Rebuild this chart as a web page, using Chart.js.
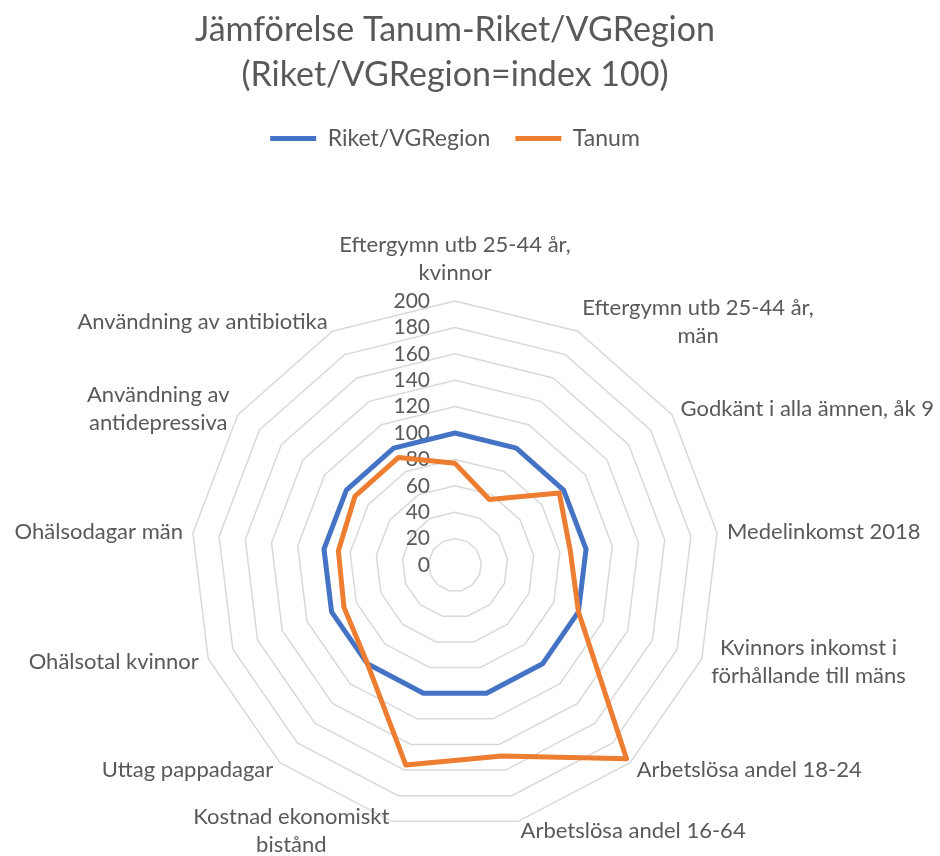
<!DOCTYPE html>
<html>
<head>
<meta charset="utf-8">
<script src="https://cdn.jsdelivr.net/npm/chart.js@4/dist/chart.umd.min.js"></script>
<style>
  html, body { margin: 0; padding: 0; background: #fff; }
  #wrap { width: 940px; height: 856px; }
</style>
</head>
<body>
<div id="wrap"><canvas id="chart"></canvas></div>
<script>
const categories = [
  ["Eftergymn utb 25-44 år,", "kvinnor"],
  ["Eftergymn utb 25-44 år,", "män"],
  "Godkänt i alla ämnen, åk 9",
  "Medelinkomst 2018",
  ["Kvinnors inkomst i", "förhållande till mäns"],
  "Arbetslösa andel 18-24",
  "Arbetslösa andel 16-64",
  ["Kostnad ekonomiskt", "bistånd"],
  "Uttag pappadagar",
  "Ohälsotal kvinnor",
  "Ohälsodagar män",
  ["Användning av", "antidepressiva"],
  "Användning av antibiotika"
];
const riket = [100, 100, 100, 100, 100, 100, 100, 100, 100, 100, 100, 100, 100];
const tanum = [77, 56, 96, 88, 100, 196, 149, 156, 100, 90, 89, 92, 92];
const tickValues = [0, 20, 40, 60, 80, 100, 120, 140, 160, 180, 200];

const textColor = "#595959";
const fontFamily = "Lato, 'Open Sans', sans-serif";

// extra room under the legend, like the empty band in the original
const legendMargin = {
  id: "legendMargin",
  beforeInit(chart) {
    const fit = chart.legend.fit;
    chart.legend.fit = function () {
      fit.bind(chart.legend)();
      this.height += 141;
    };
  },
};

// tick labels left of the axis and Excel-style category labels
const radarText = {
  id: "radarText",
  beforeDatasetsDraw(chart) {
    const r = chart.scales.r;
    const ctx = chart.ctx;
    ctx.save();
    ctx.fillStyle = textColor;
    ctx.font = "21px " + fontFamily;
    ctx.textAlign = "right";
    ctx.textBaseline = "middle";
    r.ticks.forEach((t) => {
      const d = r.getDistanceFromCenterForValue(t.value);
      ctx.fillText(String(t.value), r.xCenter - 25, r.yCenter - d);
    });

    const lh = 28;
    ctx.font = "22px " + fontFamily;
    ctx.textAlign = "center";
    categories.forEach((label, i) => {
      const lines = Array.isArray(label) ? label : [label];
      const p = r.getPointPosition(i, r.drawingArea + 10);
      const a = p.angle + Math.PI / 2;
      const s = Math.sin(a);
      const w = Math.max(...lines.map((l) => ctx.measureText(l).width));
      let cx = p.x;
      if (Math.abs(s) > 0.05) cx = s > 0 ? p.x + w / 2 : p.x - w / 2;
      let y0;
      if (i === 0) y0 = p.y - 18 - (lines.length - 1) * lh;
      else y0 = p.y - ((lines.length - 1) * lh) / 2;
      lines.forEach((l, k) => ctx.fillText(l, cx, y0 + k * lh));
    });
    ctx.restore();
  },
};

const ctx = document.getElementById("chart").getContext("2d");
new Chart(ctx, {
  type: "radar",
  data: {
    labels: categories,
    datasets: [
      {
        label: "Riket/VGRegion",
        data: riket,
        borderColor: "#4472c4",
        backgroundColor: "#4472c4",
        borderWidth: 5,
        borderJoinStyle: "round",
        borderCapStyle: "round",
        pointRadius: 0,
        fill: false,
        order: 2,
      },
      {
        label: "Tanum",
        data: tanum,
        borderColor: "#ed7d31",
        backgroundColor: "#ed7d31",
        borderWidth: 5,
        borderJoinStyle: "round",
        borderCapStyle: "round",
        pointRadius: 0,
        fill: false,
        order: 1,
      },
    ],
  },
  options: {
    responsive: true,
    maintainAspectRatio: false,
    animation: false,
    layout: { padding: { left: 0, right: 30, top: 0, bottom: 27 } },
    plugins: {
      title: {
        display: true,
        text: ["Jämförelse Tanum-Riket/VGRegion", "(Riket/VGRegion=index 100)"],
        color: textColor,
        font: { family: fontFamily, size: 34, weight: "normal", lineHeight: "45px" },
        padding: { top: 8, bottom: 4 },
      },
      legend: {
        labels: {
          color: textColor,
          font: { family: fontFamily, size: 23 },
          usePointStyle: true,
          pointStyle: "line",
          pointStyleWidth: 46,
          padding: 25,
          sort: (a, b) => a.datasetIndex - b.datasetIndex,
        },
      },
      tooltip: { enabled: false },
    },
    scales: {
      r: {
        min: tickValues[0],
        max: tickValues[tickValues.length - 1],
        ticks: { stepSize: tickValues[1] - tickValues[0], display: false },
        grid: { color: "#d9d9d9", lineWidth: 1.5 },
        angleLines: { display: false },
        pointLabels: { display: false },
      },
    },
  },
  plugins: [legendMargin, radarText],
});
</script>
</body>
</html>
